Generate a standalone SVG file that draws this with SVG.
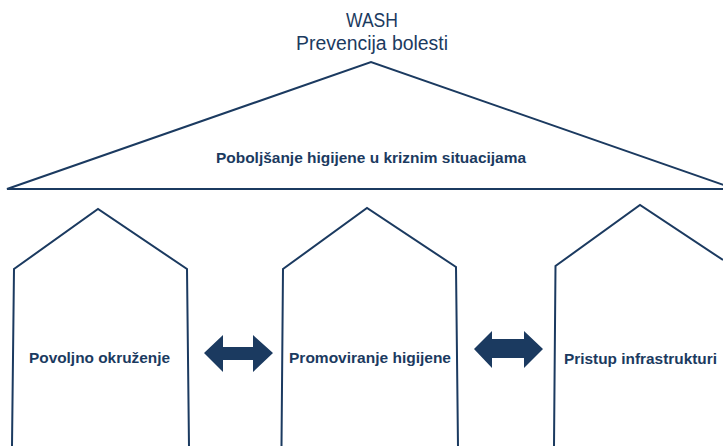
<svg xmlns="http://www.w3.org/2000/svg" width="723" height="446" viewBox="0 0 723 446">
  <style>
    .outline { fill: none; stroke: #1b3a60; stroke-width: 2; stroke-linejoin: miter; }
    .title { font-family: "Liberation Sans", Arial, sans-serif; font-size: 20px; fill: #1b3a60; text-anchor: middle; }
    .label { font-family: "Liberation Sans", Arial, sans-serif; font-size: 15px; font-weight: bold; fill: #1b3a60; text-anchor: middle; }
    .arrow { fill: #1b3a60; }
  </style>
  <rect width="723" height="446" fill="#ffffff"/>

  <!-- roof: overall goal -->
  <g id="roof">
    <text class="title" x="372" y="27" textLength="52" lengthAdjust="spacingAndGlyphs">WASH</text>
    <text class="title" x="372" y="50" textLength="152" lengthAdjust="spacingAndGlyphs">Prevencija bolesti</text>
    <polygon class="outline" points="7,189 371,62 735,189"/>
    <text class="label" x="371" y="163" textLength="310" lengthAdjust="spacingAndGlyphs">Poboljšanje higijene u kriznim situacijama</text>
  </g>

  <!-- pillars -->
  <g id="pillar-okruzenje">
    <polyline class="outline" points="12,446 14,269 98,209 187,269 189,446"/>
    <text class="label" x="99.5" y="363" textLength="141" lengthAdjust="spacingAndGlyphs">Povoljno okruženje</text>
  </g>
  <g id="pillar-promoviranje">
    <polyline class="outline" points="281.5,446 283,269 367,208 456,267 458,446"/>
    <text class="label" x="370" y="363" textLength="162" lengthAdjust="spacingAndGlyphs">Promoviranje higijene</text>
  </g>
  <g id="pillar-infrastruktura">
    <polyline class="outline" points="554,446 555.5,266 640,205 723,260"/>
    <text class="label" x="640.5" y="364" textLength="153" lengthAdjust="spacingAndGlyphs">Pristup infrastrukturi</text>
  </g>

  <!-- links between pillars -->
  <g id="connectors">
    <polygon class="arrow" points="204,353 223,335 223,347 253,347 253,335 273,353 253,372 253,360 223,360 223,372"/>
    <polygon class="arrow" points="474,349 492,331 492,339 524,339 524,331 543,349 524,368 524,358 492,358 492,368"/>
  </g>
</svg>
